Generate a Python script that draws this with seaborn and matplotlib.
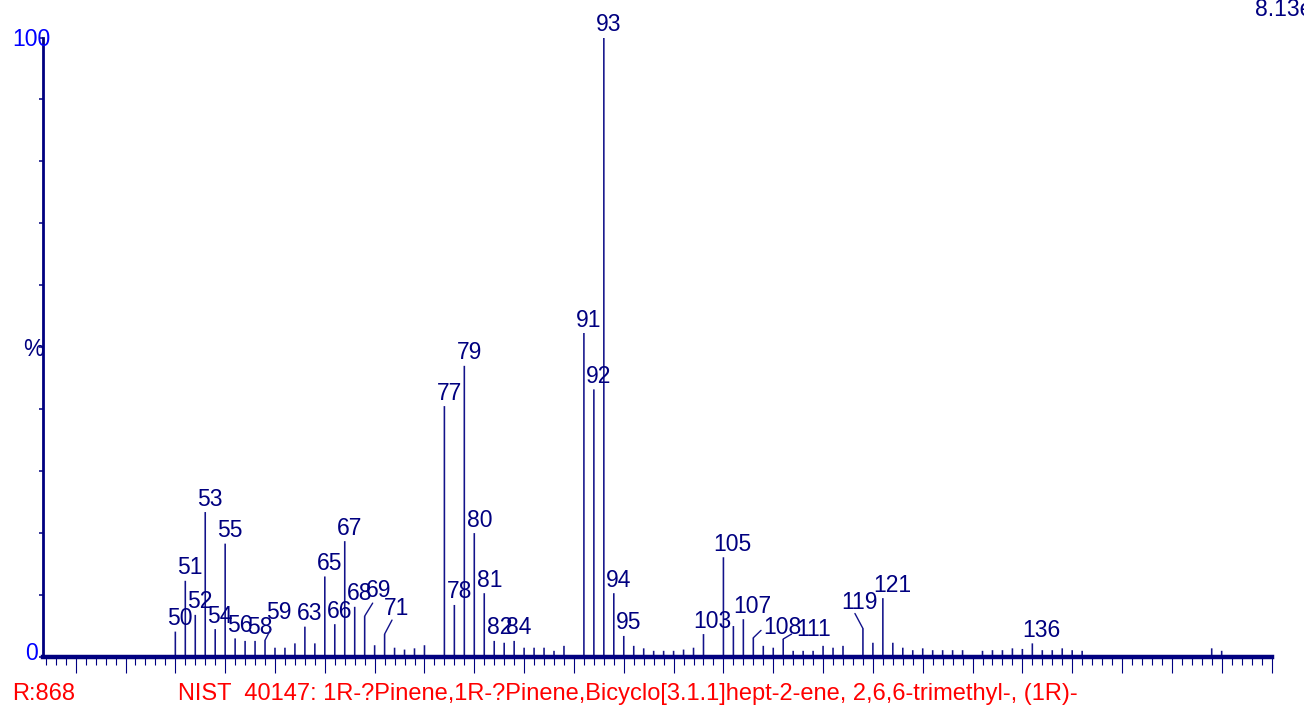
import pandas as pd
import matplotlib
matplotlib.use("Agg")
import matplotlib.pyplot as plt
from matplotlib.ticker import MultipleLocator
import seaborn as sns

# Mass spectrum peaks (m/z, relative intensity %)
mz = [50, 51, 52, 53, 54, 55, 56, 57, 58, 59, 60, 61, 62, 63, 64, 65, 66, 67, 68, 69, 70, 71, 72, 73, 74, 75,
      77, 78, 79, 80, 81, 82, 83, 84, 85, 86, 87, 88, 89,
      91, 92, 93, 94, 95, 96, 97, 98, 99, 100, 101, 102, 103,
      105, 106, 107, 108, 109, 110, 111, 112, 113, 114, 115, 116, 117,
      119, 120, 121, 122, 123, 124, 125, 126, 127, 128, 129,
      131, 132, 133, 134, 135, 136, 137, 138, 139, 140, 141,
      154, 155]
intensity = [4.1, 12.3, 6.8, 23.4, 4.5, 18.3, 3.0, 2.6, 2.6, 2.7, 1.5, 1.5, 2.2, 4.9, 2.2, 13.0, 5.3, 18.7, 8.1, 6.6, 1.9, 3.7, 1.5, 1.2, 1.4, 1.9,
             40.5, 8.4, 47.0, 20.0, 10.3, 2.6, 2.3, 2.6, 1.5, 1.5, 1.5, 1.0, 1.8,
             52.3, 43.2, 100, 10.3, 3.4, 1.8, 1.4, 1.0, 1.0, 1.0, 1.2, 1.5, 3.7,
             16.1, 5.0, 6.1, 3.1, 1.8, 1.5, 2.9, 1.0, 1.0, 1.0, 1.8, 1.5, 1.8,
             4.6, 2.3, 9.5, 2.3, 1.5, 1.1, 1.4, 1.1, 1.1, 1.1, 1.1,
             1.0, 1.1, 1.1, 1.4, 1.3, 2.2, 1.1, 1.1, 1.4, 1.1, 1.0,
             1.4, 1.0]

# Peaks that get a label
label_mz = [50, 51, 52, 53, 54, 55, 56, 58, 59, 63, 65, 66, 67, 68, 69, 71, 77, 78, 79, 80, 81, 82, 84,
            91, 92, 93, 94, 95, 103, 105, 107, 108, 111, 119, 121, 136]

# Labels moved aside with a leader line: (label dx, label dy, leader dx, leader dy) in pixels
leaders = {59: (14, 21, 5.7, 11), 69: (13.5, 19.6, 8, 13), 71: (12.4, 19.3, 7.4, 14),
           108: (28.7, 4, 7.7, 7.4), 111: (30, 2.6, 8.4, 5), 119: (-3, 20, -8, 15)}

title_left = "R:868"
title_main = "NIST  40147: 1R-?Pinene,1R-?Pinene,Bicyclo[3.1.1]hept-2-ene, 2,6,6-trimethyl-, (1R)-"
max_count = "8.13e6"

sns.set_theme(style="white")
plt.rcParams['font.family'] = ['Liberation Sans', 'DejaVu Sans']

navy = "#000080"
stem = "#12128a"
fs = 16.5

df = pd.DataFrame({"mz": mz, "intensity": intensity})

fig = plt.figure(figsize=(13.04, 7.07), dpi=100)
ax = fig.add_axes([43 / 1304, 50 / 707, 1229 / 1304, 619.5 / 707])
sns.barplot(data=df, x="mz", y="intensity", native_scale=True, width=0.16, color=stem,
            saturation=1, errorbar=None, linewidth=0, ax=ax)
# keep every stem the same width (no pixel snapping)
for p in ax.patches:
    p.set_snap(False)

ax.set_xlim(36.72, 160.05)
ax.set_ylim(0, 100)
ax.set_xlabel("")
ax.set_ylabel("")

for side in ["top", "right"]:
    ax.spines[side].set_visible(False)
ax.spines["left"].set_linewidth(2.0)
ax.spines["left"].set_color(navy)
ax.spines["bottom"].set_linewidth(3.2)
ax.spines["bottom"].set_color(navy)
ax.spines["bottom"].set_zorder(5)

ax.xaxis.set_major_locator(MultipleLocator(5))
ax.xaxis.set_minor_locator(MultipleLocator(1))
ax.tick_params(axis="x", which="major", direction="out", length=11.3, width=0.8, color=navy,
               bottom=True, labelbottom=False)
ax.tick_params(axis="x", which="minor", direction="out", length=5.8, width=0.8, color=navy, bottom=True)
ax.set_yticks(range(0, 101, 10))
ax.tick_params(axis="y", direction="out", length=2.6, width=1.1, color=navy, left=True, labelleft=False)

# y axis annotations
ax.annotate("100", xy=(0, 100), xycoords=("axes fraction", "data"), xytext=(-12, -8.5),
            textcoords="offset pixels", ha="center", va="baseline", color="blue", fontsize=fs)
ax.annotate("0", xy=(0, 0), xycoords=("axes fraction", "data"), xytext=(-11, -3),
            textcoords="offset pixels", ha="center", va="baseline", color="blue", fontsize=fs)
ax.annotate("%", xy=(0, 50), xycoords=("axes fraction", "data"), xytext=(-10, -8.5),
            textcoords="offset pixels", ha="center", va="baseline", color=navy, fontsize=fs)

# peak labels
heights = dict(zip(mz, intensity))
for m in label_mz:
    h = heights[m]
    if m in leaders:
        tdx, tdy, ldx, ldy = leaders[m]
        ax.annotate("", xy=(m, h), xytext=(ldx, ldy), textcoords="offset pixels",
                    arrowprops=dict(arrowstyle="-", color=stem, lw=1.0, shrinkA=0, shrinkB=0))
    else:
        tdx = 5 if m < 100 else 9
        tdy = 6.5
    ax.annotate(str(m), xy=(m, h), xytext=(tdx, tdy), textcoords="offset pixels",
                ha="center", va="baseline", color=navy, fontsize=fs, annotation_clip=False)

fig.text(12 / 1304, 1 - 700 / 707, title_left, color="red", fontsize=17, va="baseline")
fig.text(178 / 1304, 1 - 700 / 707, title_main, color="red", fontsize=17, va="baseline")
fig.text(1255 / 1304, 1 - 16 / 707, max_count, color=navy, fontsize=fs, va="baseline")

plt.savefig("out.png", dpi=100)
